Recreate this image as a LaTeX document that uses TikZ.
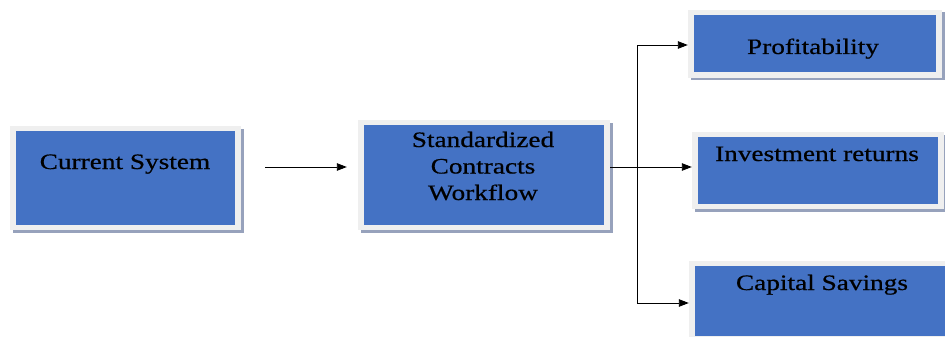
\documentclass[tikz,border=0pt]{standalone}
\usepackage{fontspec}
\setmainfont[FakeStretch=1.24,FakeBold=0.6]{Liberation Serif}
\usetikzlibrary{arrows.meta,shadows}
\definecolor{boxblue}{HTML}{4472C4}
\definecolor{framegray}{HTML}{EFEFEF}
\definecolor{shadowgray}{HTML}{97A2BC}
\begin{document}
\begin{tikzpicture}[x=1pt,y=-1pt,
  box/.style={rectangle, inner sep=0pt, fill=framegray,
    drop shadow={shadow xshift=2.5pt, shadow yshift=-2.5pt, fill=shadowgray, opacity=1},
    path picture={\fill[boxblue]
      ([shift={(5.5pt,-5pt)}]path picture bounding box.north west) rectangle
      ([shift={(-6pt,5.5pt)}]path picture bounding box.south east);}},
  caption/.style={font=\fontsize{22}{26.5}\selectfont, text=black, align=center,
    anchor=base, inner sep=0pt},
  link/.style={line width=0.9pt, draw=black},
  arr/.style={link, -{Triangle[length=10pt,width=7.5pt]}}]
  \useasboundingbox (0,0) rectangle (945,337);

  % boxes
  \node[box, minimum width=231pt, minimum height=104pt] (cur)  at (125.5,178) {};
  \node[box, minimum width=252pt, minimum height=110pt] (std)  at (484,175) {};
  \node[box, minimum width=254pt, minimum height=68pt]  (prof) at (815,44) {};
  \node[box, minimum width=252pt, minimum height=77pt]  (inv)  at (818,170.5) {};
  \node[box, minimum width=264pt, minimum height=80pt]  (cap)  at (821,301) {};

  % captions (base anchor sits on the last line)
  \node[caption] (tcur)  at (125,169) {Current System};
  \node[caption] (tstd)  at (483,200) {Standardized\\Contracts\\Workflow};
  \node[caption] (tprof) at (813,54)  {Profitability};
  \node[caption] (tinv)  at (817,161) {Investment returns};
  \node[caption] (tcap)  at (822,290) {Capital Savings};

  % connectors
  \coordinate (trunk) at (637,167);
  \draw[arr, shorten <=24pt, shorten >=11pt] (cur.east |- trunk) -- (std.west |- trunk);
  \draw[link] (std.east |- trunk) -- (trunk);
  \draw[arr] (trunk) |- ([yshift=-1pt]prof.west);
  \draw[arr] (trunk) -- (inv.west |- trunk);
  \draw[arr] (trunk) |- ([yshift=-2pt]cap.west);
\end{tikzpicture}
\end{document}
